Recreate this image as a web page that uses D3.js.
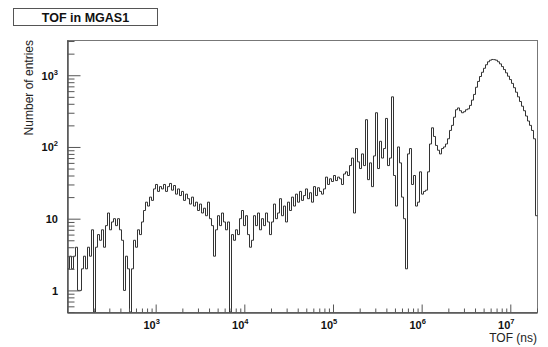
<!DOCTYPE html>
<html>
<head>
<meta charset="utf-8">
<script src="https://cdn.jsdelivr.net/npm/d3@7"></script>
<style>
  body { margin: 0; background: #fff; }
  svg { display: block; }
  text { font-family: "Liberation Sans", Arial, Helvetica, sans-serif; }
</style>
</head>
<body>
<svg id="chart" width="548" height="347"></svg>
<script>
// ---- histogram definition -------------------------------------------------
const titleText = "TOF in MGAS1";
const xTitle = "TOF (ns)";
const yTitle = "Number of entries";

// log-spaced binning of the time-of-flight axis (ns)
const tofRange = [100, 2e7];
const yRange = [0.5, 3100];

// entries per bin
const counts = [
  2, 3, 2, 3, 4, 1, 1, 2, 3, 2, 4, 3, 7, 0,
  4, 6, 5, 7, 4, 8, 12, 7, 9, 10, 8, 10, 7, 5,
  1, 3, 2, 0, 2,
  5, 4, 7, 6, 9, 13, 17,
  15, 20, 18, 26, 30, 24, 28, 26, 30, 24, 28, 31, 25, 29, 22, 26, 21, 24, 18, 22,
  19, 16, 20, 15, 17, 13, 16, 12, 14, 11, 17, 10, 8, 3, 7, 11, 8, 12, 9, 7, 9,
  0,
  6, 5, 7, 6, 10, 13, 8, 11, 6, 4, 5, 11, 8, 12, 7, 10, 8, 12,
  9, 6, 9, 16, 10, 12, 19, 11, 15, 9, 17, 13, 20, 15, 22, 17, 24, 18, 21, 26,
  19, 23, 17, 28, 21, 27, 24, 22, 26, 38, 30, 36, 33, 40, 34, 38, 36, 30, 42, 45, 40, 55, 70,
  12,
  95, 62, 50, 80, 55, 240, 35, 60, 28, 75, 300, 50, 120, 70, 95, 250, 55, 70, 500, 40, 15, 100, 60, 20, 10, 2,
  80, 95, 30, 40, 15, 17, 45, 22, 24, 25,
  45, 110, 185, 140, 105, 90, 80, 95, 100, 110,
  130, 170, 200, 260, 330, 350, 320, 300, 310, 330,
  340, 380, 450, 540, 680, 820, 960, 1100, 1250, 1400,
  1540, 1620, 1660, 1650, 1620, 1540, 1440, 1320, 1200, 1080,
  970, 870, 770, 670, 580, 500, 430, 370, 320, 270,
  230, 200, 170, 130, 11
];

// axis labels
const xTickExponents = [3, 4, 5, 6, 7];
const yTickValues = [1, 10, 100, 1000];
const yTickBase = ["1", "10", "10", "10"];
const yTickSup = ["", "", "2", "3"];

// ---- layout ---------------------------------------------------------------
const frame = { left: 67, right: 537, top: 40, bottom: 312 };
const svg = d3.select("#chart");

const x = d3.scaleLog().domain(tofRange).range([frame.left, frame.right]);
const y = d3.scaleLog().domain(yRange).range([frame.bottom, frame.top]);

// bin edges, equally spaced in log10(TOF)
const nBins = counts.length;
const lg0 = Math.log10(tofRange[0]), lg1 = Math.log10(tofRange[1]);
const edges = d3.range(nBins + 1).map(i => Math.pow(10, lg0 + (lg1 - lg0) * i / nBins));

// minor tick positions (2..9 x 10^n) inside the axis ranges
function logTicks(lo, hi) {
  const out = [];
  for (let e = Math.floor(Math.log10(lo)) - 1; e <= Math.ceil(Math.log10(hi)); e++) {
    for (let m = 1; m <= 9; m++) {
      const v = m * Math.pow(10, e);
      if (v >= lo * 0.999 && v <= hi * 1.001) out.push(v);
    }
  }
  return out;
}

// ---- title box ------------------------------------------------------------
svg.append("rect")
  .attr("x", 13.5).attr("y", 8.5).attr("width", 144).attr("height", 17)
  .attr("fill", "#fff").attr("stroke", "#555").attr("stroke-width", 1);
svg.append("text")
  .attr("x", 85.5).attr("y", 21.5)
  .attr("text-anchor", "middle")
  .attr("font-size", 12.5).attr("font-weight", "bold")
  .attr("fill", "#111")
  .text(titleText);

// ---- frame ----------------------------------------------------------------
svg.append("rect")
  .attr("x", frame.left + 0.5).attr("y", frame.top + 0.5)
  .attr("width", frame.right - frame.left).attr("height", frame.bottom - frame.top)
  .attr("fill", "none").attr("stroke", "#777").attr("stroke-width", 1);

// ---- histogram ------------------------------------------------------------
svg.append("defs").append("clipPath").attr("id", "plotClip")
  .append("rect")
  .attr("x", frame.left).attr("y", frame.top)
  .attr("width", frame.right - frame.left + 1).attr("height", frame.bottom - frame.top + 1);

const yv = v => y(Math.max(v, yRange[0]));
const steps = [];
counts.forEach((c, i) => {
  steps.push([x(edges[i]), yv(c)]);
  steps.push([x(edges[i + 1]), yv(c)]);
});
svg.append("g").attr("clip-path", "url(#plotClip)")
  .append("path")
  .attr("transform", "translate(0.5,0)")   // keep vertical risers on pixel centres
  .attr("d", d3.line()(steps))
  .attr("fill", "none")
  .attr("stroke", "#333")
  .attr("stroke-width", 1);

// ---- axes (ticks pointing into the frame) --------------------------------
const xMajor = xTickExponents.map(e => Math.pow(10, e));
const xMinor = logTicks(tofRange[0], tofRange[1]).filter(v => !xMajor.includes(v));
const yMinor = logTicks(yRange[0], yRange[1]).filter(v => !yTickValues.includes(v));

function styleAxis(g) {
  g.selectAll("path.domain").attr("stroke", "#555");
  g.selectAll(".tick line").attr("stroke", "#555");
  g.selectAll(".tick text").remove();
}

svg.append("g").attr("transform", `translate(0,${frame.bottom + 0.5})`)
  .call(d3.axisBottom(x).tickValues(xMinor).tickSize(-4).tickSizeOuter(0).tickFormat(""))
  .call(styleAxis);
svg.append("g").attr("transform", `translate(0,${frame.bottom + 0.5})`)
  .call(d3.axisBottom(x).tickValues(xMajor).tickSize(-8).tickSizeOuter(0).tickFormat(""))
  .call(styleAxis);
svg.append("g").attr("transform", `translate(${frame.left + 0.5},0)`)
  .call(d3.axisLeft(y).tickValues(yMinor).tickSize(-7).tickSizeOuter(0).tickFormat(""))
  .call(styleAxis);
svg.append("g").attr("transform", `translate(${frame.left + 0.5},0)`)
  .call(d3.axisLeft(y).tickValues(yTickValues).tickSize(-13).tickSizeOuter(0).tickFormat(""))
  .call(styleAxis);

// x tick labels: 10^n
xTickExponents.forEach((e, i) => {
  const t = svg.append("text")
    .attr("x", x(xMajor[i]) - 4).attr("y", 329)
    .attr("text-anchor", "middle")
    .attr("font-size", 11).attr("font-weight", "bold")
    .attr("fill", "#111");
  t.append("tspan").text("10");
  t.append("tspan").attr("dy", -5).attr("font-size", 7.5).text(String(e));
});

// y tick labels
yTickValues.forEach((v, i) => {
  const t = svg.append("text")
    .attr("x", 58).attr("y", y(v) + 4.5)
    .attr("text-anchor", "end")
    .attr("font-size", 11).attr("font-weight", "bold")
    .attr("fill", "#111");
  t.append("tspan").text(yTickBase[i]);
  if (yTickSup[i]) t.append("tspan").attr("dy", -5).attr("font-size", 7.5).text(yTickSup[i]);
});

// axis titles
svg.append("text")
  .attr("x", frame.right).attr("y", 342)
  .attr("text-anchor", "end")
  .attr("font-size", 12).attr("fill", "#222")
  .text(xTitle);
svg.append("text")
  .attr("transform", `translate(33,${frame.top}) rotate(-90)`)
  .attr("text-anchor", "end")
  .attr("font-size", 12).attr("fill", "#222")
  .text(yTitle);
</script>
</body>
</html>
